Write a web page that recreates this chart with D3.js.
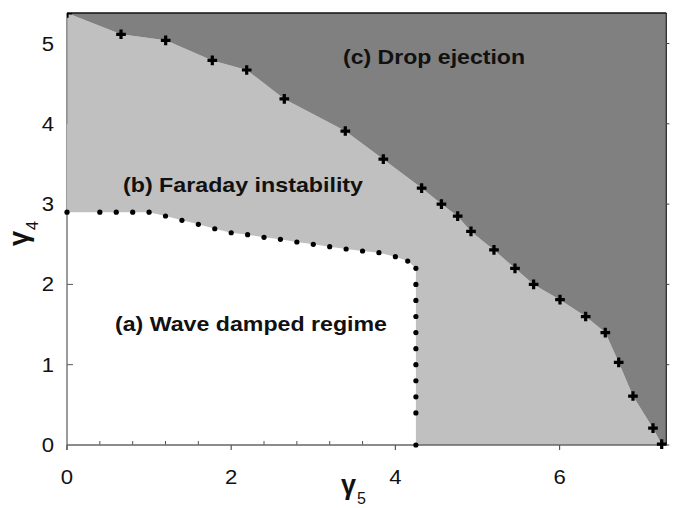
<!DOCTYPE html>
<html>
<head>
<meta charset="utf-8">
<script src="https://cdn.jsdelivr.net/npm/d3@7"></script>
<style>
  html, body { margin: 0; padding: 0; background: #fff; }
  svg { display: block; }
  text { font-family: "Liberation Sans", Arial, sans-serif; fill: #111; }
</style>
</head>
<body>
<svg id="chart" width="673" height="508"></svg>
<script>
// Drop-ejection threshold (crosses): gamma5, gamma4
const ejectG5 = [0, 0.658, 1.202, 1.770, 2.189, 2.647, 3.390, 3.853, 4.320, 4.561, 4.759, 4.921, 5.201, 5.457, 5.684, 6.005, 6.318, 6.557, 6.720, 6.894, 7.138, 7.244];
const ejectG4 = [5.38, 5.115, 5.04, 4.79, 4.67, 4.31, 3.91, 3.56, 3.20, 3.00, 2.85, 2.66, 2.43, 2.20, 2.00, 1.81, 1.60, 1.40, 1.03, 0.61, 0.21, 0.01];

// Faraday threshold (dots): gamma5, gamma4
const faradayG5 = [0, 0.4, 0.6, 0.8, 1.0, 1.2, 1.4, 1.6, 1.8, 2.0, 2.2, 2.4, 2.6, 2.8, 3.0, 3.2, 3.4, 3.6, 3.8, 4.0, 4.15, 4.25, 4.25, 4.25, 4.25, 4.25, 4.25, 4.25, 4.25, 4.25, 4.25, 4.25];
const faradayG4 = [2.9, 2.9, 2.9, 2.9, 2.9, 2.852, 2.798, 2.748, 2.693, 2.643, 2.619, 2.586, 2.562, 2.528, 2.499, 2.470, 2.441, 2.416, 2.395, 2.345, 2.291, 2.20, 2.0, 1.8, 1.6, 1.4, 1.2, 1.0, 0.8, 0.6, 0.4, 0];

const xMajorTicks = [0, 2, 4, 6];
const xMinorTicks = [0.4, 0.8, 1.2, 1.6, 2.4, 2.8, 3.2, 3.6, 4.4, 4.8, 5.2, 5.6, 6.4, 6.8, 7.2];
const yTicks = [0, 1, 2, 3, 4, 5];
const regionLabels = ["(a) Wave damped regime", "(b) Faraday instability", "(c) Drop ejection"];

const svg = d3.select("#chart");
const x = d3.scaleLinear().domain([0, 7.3]).range([67, 666.3]);
const y = d3.scaleLinear().domain([0, 5.38]).range([445, 13]);
const xMax = 7.3, yMax = 5.38;

const eject = ejectG5.map((g, i) => [g, ejectG4[i]]);
const faraday = faradayG5.map((g, i) => [g, faradayG4[i]]);
const line = d3.line().x(d => x(d[0])).y(d => y(d[1]));

// ticks that sit under the filled regions
svg.append("g").selectAll("line").data(xMinorTicks).join("line")
  .attr("x1", d => x(d)).attr("x2", d => x(d))
  .attr("y1", y(0)).attr("y2", y(0) - 4)
  .attr("stroke", "#555").attr("stroke-width", 1);
svg.append("g").selectAll("line").data(yTicks.filter(d => d > 0)).join("line")
  .attr("x1", x(0)).attr("x2", x(0) + 6)
  .attr("y1", d => y(d)).attr("y2", d => y(d))
  .attr("stroke", "#555").attr("stroke-width", 1);
// left axis line
svg.append("line").attr("x1", x(0)).attr("x2", x(0))
  .attr("y1", y(0) + 5).attr("y2", y(yMax))
  .attr("stroke", "#666").attr("stroke-width", 1.3);

// (b) Faraday instability region: between the two thresholds
const midPoly = [[0, faradayG4[0]], [0, yMax]]
  .concat(eject)
  .concat([[ejectG5[ejectG5.length - 1], 0]])
  .concat(faraday.slice().reverse());
svg.append("path").attr("d", line(midPoly) + "Z").attr("fill", "#c0c0c0");

// (c) Drop ejection region: above the crosses
const topPoly = eject.concat([[xMax, 0], [xMax, yMax]]);
svg.append("path").attr("d", line(topPoly) + "Z").attr("fill", "#808080");

// faint edge along the upper part of the left axis
svg.append("line").attr("x1", x(0)).attr("x2", x(0))
  .attr("y1", y(4)).attr("y2", y(yMax))
  .attr("stroke", "#8e8e8e").attr("stroke-width", 1.3);

// bottom axis line and outward major ticks
svg.append("line").attr("x1", x(0)).attr("x2", x(xMax))
  .attr("y1", y(0)).attr("y2", y(0))
  .attr("stroke", "#666").attr("stroke-width", 1.3);
svg.append("g").selectAll("line").data(xMajorTicks).join("line")
  .attr("x1", d => x(d)).attr("x2", d => x(d))
  .attr("y1", y(0)).attr("y2", y(0) + 5)
  .attr("stroke", "#555").attr("stroke-width", 1.2);

// frame: top and right edges, right-side ticks
svg.append("line").attr("x1", x(0)).attr("x2", x(xMax))
  .attr("y1", y(yMax)).attr("y2", y(yMax))
  .attr("stroke", "#111").attr("stroke-width", 1.5);
svg.append("line").attr("x1", x(xMax)).attr("x2", x(xMax))
  .attr("y1", y(yMax)).attr("y2", y(0))
  .attr("stroke", "#222").attr("stroke-width", 1.2);
svg.append("g").selectAll("line").data(yTicks).join("line")
  .attr("x1", x(xMax)).attr("x2", x(xMax) + 3)
  .attr("y1", d => y(d)).attr("y2", d => y(d))
  .attr("stroke", "#444").attr("stroke-width", 1);

// tick labels
svg.append("g").selectAll("text").data(xMajorTicks).join("text")
  .attr("x", d => x(d)).attr("y", 484)
  .attr("text-anchor", "middle").attr("font-size", 20)
  .attr("textLength", 12.3).attr("lengthAdjust", "spacingAndGlyphs")
  .text(d => d);
svg.append("g").selectAll("text").data(yTicks).join("text")
  .attr("x", 54).attr("y", d => y(d)).attr("dy", "0.35em")
  .attr("text-anchor", "end").attr("font-size", 20)
  .attr("textLength", 12.3).attr("lengthAdjust", "spacingAndGlyphs")
  .text(d => d);

// threshold markers
svg.append("clipPath").attr("id", "plotClip")
  .append("rect").attr("x", x(0)).attr("y", y(yMax))
  .attr("width", 673 - x(0)).attr("height", 508 - y(yMax));
svg.append("g").attr("clip-path", "url(#plotClip)")
  .selectAll("path").data(eject).join("path")
  .attr("transform", d => `translate(${x(d[0])},${y(d[1])})`)
  .attr("d", d3.symbol(d3.symbolCross, 52))
  .attr("fill", "#000");
svg.append("g").selectAll("circle").data(faraday).join("circle")
  .attr("cx", d => x(d[0])).attr("cy", d => y(d[1]))
  .attr("r", 2.6).attr("fill", "#000");

// region labels
const labelPos = [[115, 331, 272], [123, 192, 240], [343, 64, 182]];
svg.append("g").selectAll("text").data(regionLabels).join("text")
  .attr("x", (d, i) => labelPos[i][0]).attr("y", (d, i) => labelPos[i][1])
  .attr("textLength", (d, i) => labelPos[i][2])
  .attr("lengthAdjust", "spacingAndGlyphs")
  .attr("font-size", 21).attr("font-weight", "bold")
  .text(d => d);

// axis titles
const xt = svg.append("text").attr("x", 341).attr("y", 494)
  .attr("font-size", 27).attr("font-weight", "bold");
xt.append("tspan").text("γ");
xt.append("tspan").attr("font-size", 16).attr("font-weight", "normal")
  .attr("dx", 1).attr("dy", 10).text("5");

const yt = svg.append("text")
  .attr("transform", "translate(28,246) rotate(-90)")
  .attr("font-size", 27).attr("font-weight", "bold");
yt.append("tspan").text("γ");
yt.append("tspan").attr("font-size", 16).attr("font-weight", "normal")
  .attr("dx", 1).attr("dy", 10).text("4");
</script>
</body>
</html>
